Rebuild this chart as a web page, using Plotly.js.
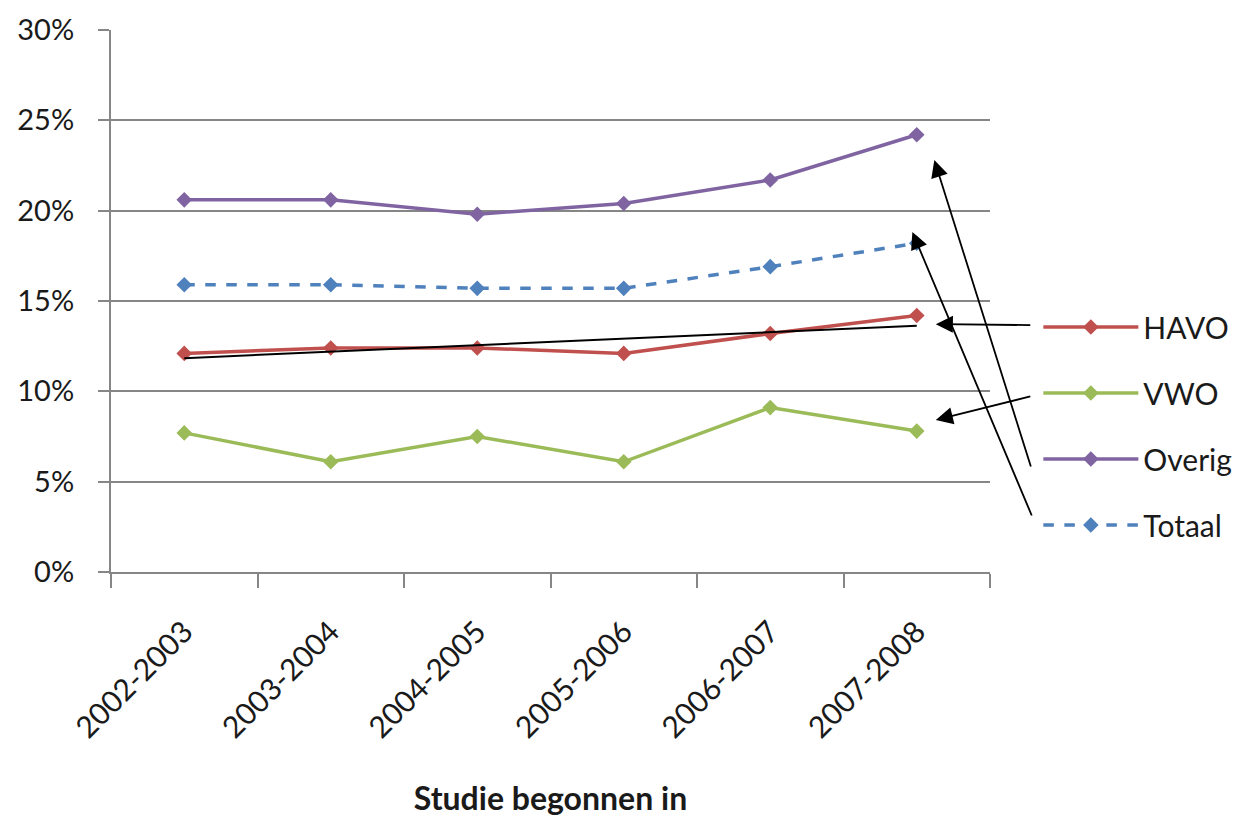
<!DOCTYPE html>
<html>
<head>
<meta charset="utf-8">
<script src="https://cdn.plot.ly/plotly-3.0.1.min.js"></script>
<style>html,body{margin:0;padding:0;background:#fff;}#chart{width:1257px;height:817px;}</style>
</head>
<body>
<div id="chart"></div>
<script>
// Data (percentages)
const categories = ["2002-2003", "2003-2004", "2004-2005", "2005-2006", "2006-2007", "2007-2008"];
const havo   = [12.1, 12.4, 12.4, 12.1, 13.2, 14.2];
const vwo    = [7.7, 6.1, 7.5, 6.1, 9.1, 7.8];
const overig = [20.6, 20.6, 19.8, 20.4, 21.7, 24.2];
const totaal = [15.9, 15.9, 15.7, 15.7, 16.9, 18.2];
const seriesNames = ["HAVO", "VWO", "Overig", "Totaal"];
const yTickVals = [0, 5, 10, 15, 20, 25, 30];
const yTickText = ["0%", "5%", "10%", "15%", "20%", "25%", "30%"];

// Linear trendline for HAVO (least squares)
function linearTrend(vals) {
  const n = vals.length;
  const xs = vals.map((_, i) => i);
  const mx = xs.reduce((a, b) => a + b, 0) / n;
  const my = vals.reduce((a, b) => a + b, 0) / n;
  let num = 0, den = 0;
  xs.forEach((x, i) => { num += (x - mx) * (vals[i] - my); den += (x - mx) * (x - mx); });
  const slope = num / den;
  return xs.map(x => my + slope * (x - mx));
}
const havoTrend = linearTrend(havo);

const FONT = "Lato, 'Open Sans', sans-serif";
const colors = {HAVO: "#C0504D", VWO: "#9BBB59", Overig: "#8064A2", Totaal: "#4F81BD"};

function series(name, vals, dash) {
  return {
    x: categories, y: vals, name: name, type: "scatter", mode: "lines+markers",
    legendgroup: name,
    line: {color: colors[name], width: 3.5, dash: dash || "solid"},
    marker: {symbol: "diamond", size: 12, color: colors[name]},
    cliponaxis: false
  };
}

const traces = [
  series("HAVO", havo),
  series("VWO", vwo),
  series("Overig", overig),
  series("Totaal", totaal, "dash"),
  {
    x: categories, y: havoTrend, type: "scatter", mode: "lines", name: "Lineair (HAVO)",
    showlegend: false, line: {color: "#000000", width: 2}, hoverinfo: "skip"
  }
];

// Arrows pointing from legend to series ends (offsets in pixels)
const arrowStyle = {text: "", showarrow: true, arrowhead: 2, arrowsize: 1.9, arrowwidth: 1.8,
  arrowcolor: "#000", xref: "x", yref: "y", axref: "pixel", ayref: "pixel", standoff: 0, startstandoff: 0};
const annotations = [
  Object.assign({}, arrowStyle, {x: 5.13, y: 13.72, ax: 96, ay: 1}),
  Object.assign({}, arrowStyle, {x: 5.13, y: 8.41, ax: 96, ay: -24}),
  Object.assign({}, arrowStyle, {x: 5.12, y: 22.8, ax: 97, ay: 308}),
  Object.assign({}, arrowStyle, {x: 4.97, y: 18.82, ax: 120, ay: 285})
];

const layout = {
  width: 1257, height: 817,
  margin: {l: 111, r: 267, t: 30, b: 245},
  paper_bgcolor: "#ffffff", plot_bgcolor: "#ffffff",
  font: {family: FONT, size: 28, color: "#1a1a1a"},
  showlegend: true,
  legend: {
    x: 1.055, y: 0.50, xanchor: "left", yanchor: "top",
    font: {family: FONT, size: 30, color: "#1a1a1a"},
    tracegroupgap: 24, itemwidth: 95, bgcolor: "rgba(0,0,0,0)"
  },
  xaxis: {
    type: "category", range: [-0.5, 5.5], autorange: false,
    tickangle: -45, tickson: "boundaries", ticks: "outside", ticklen: 14, tickwidth: 2, tickcolor: "#868686",
    showline: true, linecolor: "#868686", linewidth: 2, showgrid: false, zeroline: false,
    tickfont: {family: FONT, size: 30, color: "#1a1a1a"},
    ticklabelstandoff: 28,
    title: {text: "Studie begonnen in", font: {family: FONT, size: 32, color: "#1a1a1a", weight: "bold"}, standoff: 48},
    automargin: false
  },
  yaxis: {
    range: [0, 30], autorange: false, tickmode: "array", tickvals: yTickVals, ticktext: yTickText,
    ticks: "outside", ticklen: 11, tickwidth: 2, tickcolor: "#868686",
    showline: true, linecolor: "#868686", linewidth: 2,
    showgrid: true, gridcolor: "#868686", gridwidth: 2, zeroline: false,
    tickfont: {family: FONT, size: 29, color: "#1a1a1a"},
    ticklabelstandoff: 18,
    automargin: false
  },
  annotations: annotations
};

Plotly.newPlot("chart", traces, layout, {displayModeBar: false, staticPlot: true});
</script>
</body>
</html>
